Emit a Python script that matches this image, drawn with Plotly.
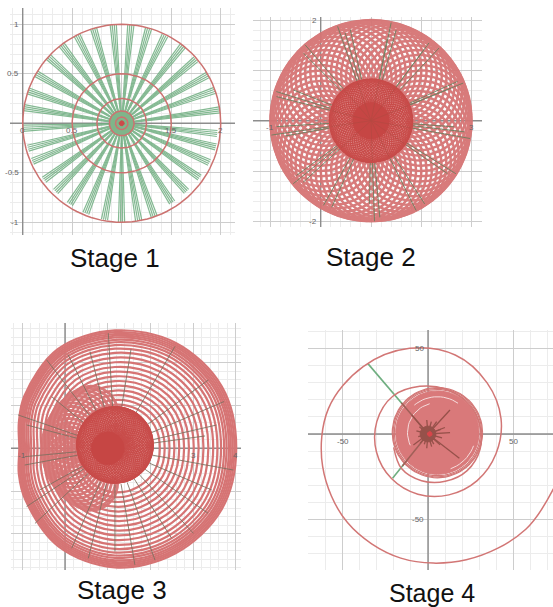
import math
import plotly.graph_objects as go

W, H = 553, 607

# ---------- values ----------
titles = ["Stage 1", "Stage 2", "Stage 3", "Stage 4"]
title_sizes = [26, 26, 26, 25]

# Stage 1 (centre x=1, y=0)
s1_ring_radii = [1.0, 0.5, 0.25, 0.125, 0.0625]
s1_group_angles = [84.8, 74.3, 63.9, 51.8, 40.9, 29.4, 19.6, 7.9, -6, -14, -24, -34.8, -46.3, -57.4, -70.7, -80,
                   -90, -100, -111.6, -122.6, -134, -143.9, -156.8, -165, -177, 171, 161, 150, 138, 127.5, 117, 106.6, 95]
s1_group_lengths = [1, 1, 0.99, 1, 0.99, 1, 1, 1, 0.97, 0.98, 0.97, 0.96, 0.95, 0.95, 1, 1,
                    1, 0.99, 0.98, 0.97, 0.96, 0.97, 0.98, 0.98, 1, 1, 1, 1, 1, 1, 1, 1, 1]
s1_line_offsets = [-1.9, -0.7, 0.5, 1.7]
s1_hub_radius = 0.12

# Stage 2 (centre x=1, y=0)
s2_orbit = [0, 6, 12, 18, 24, 30, 36, 42, 48, 54, 60, 66, 72, 78, 84, 90, 96, 102, 108, 114, 120, 126, 132, 138, 144,
            150, 156, 162, 168, 174, 180, 186, 192, 198, 204, 210, 216, 222, 228, 234, 240, 246, 252, 258, 264, 270,
            276, 282, 288, 294, 300, 306, 312, 318, 324, 330, 336, 342, 348, 354]
s2_outer_radius = 1.0
s2_mid_radius = 0.415
s2_core_radius = 0.36
s2_spoke_angles = [109.5, 106.4, 102.8, 78.4, 74.5, 78.8, 131, 135, 46.9, 53.3, 53.3, 162.9, 165.7, 158.4, 24.4, 22.2,
                   22.2, 183.6, 188.2, 190.1, -6.8, -10.2, -4.2, 219, 222.2, 216.3, -32, -34.7, 240.7, 245.6, -63.3,
                   -57.2, -91, -88, -84.8]
s2_spoke_lengths = [1.99, 1.82, 1.86, 1.99, 1.87, 1.65, 2.0, 1.9, 1.98, 1.93, 1.76, 1.97, 1.94, 1.66, 1.89, 1.98,
                    1.71, 1.88, 2.0, 1.74, 1.87, 2.0, 1.66, 1.99, 1.82, 1.84, 1.99, 1.85, 1.93, 1.89, 2.0,
                    1.97, 1.65, 2.0, 1.93]

# Stage 3 (outline around x=1.17, y=0)
s3_outline_angles = [0, 30, 60, 90, 120, 150, 165, 180, 195, 210, 240, 270, 300, 330]
s3_outline_radii = [2.84, 2.89, 2.85, 2.76, 2.68, 2.45, 2.33, 2.24, 2.33, 2.42, 2.65, 2.79, 2.84, 2.88]
s3_ring_scales = [0.37, 0.41, 0.45, 0.49, 0.53, 0.57, 0.61, 0.65, 0.69, 0.73, 0.77, 0.81, 0.845, 0.875, 0.9, 0.92, 0.94,
                  0.955, 0.97, 0.985, 1.0]
s3_lobe_orbit = [115, 121, 127, 133, 139, 145, 151, 157, 163, 169, 175, 181, 187, 193, 199, 205, 211, 217, 223, 229, 235, 241, 245]
s3_spoke_angles = [127.7, 116.6, 104.5, 93.3, 80.8, 59.5, 36.2, 23.2, 12.9, 7.8, -10.4, -23.3, -34.9, -47.3, -57.8,
                   -70.3, -80.3, -90, -103.6, -113.4, -136.8, -146.6, -151, -169.5, -174.7, 165.2, 161, 140.8]
s3_spoke_lengths = [2.62, 2.45, 2.34, 2.70, 2.35, 2.77, 2.71, 2.78, 2.44, 2.13, 2.82, 2.47, 2.66, 2.71, 2.49,
                    2.78, 2.77, 2.42, 2.65, 2.55, 2.57, 2.48, 2.01, 2.15, 2.12, 2.14, 2.40, 1.91]

# Stage 4 (spiral read as angle/radius around x=3.1, y=-1.6)
s4_spiral_center = [3.1, -1.6]
s4_spiral_angles = [-15, -45, -75, -105, -135, -165, -195, -225, -255, -285, -315, -345, -375, -405, -435, -465, -495,
                    -525, -555, -585, -615, -645, -675, -705, -735, -765, -795, -825, -855, -885]
s4_spiral_radii = [78, 76.5, 74.5, 73.5, 71, 67, 63.5, 58, 53.5, 49.5, 44.5, 41, 38, 36.3, 35.2, 34.8, 34.6,
                   34.4, 34.2, 33.5, 30.5, 28.8, 28, 28, 28.3, 28, 27, 26.6, 26.3, 24]
s4_disc_center = [5.5, 0.8]
s4_disc_radius = 24.4
s4_rim_radii = [25.2, 25.9, 26.4]
s4_arc_radii = [17.5, 21.0, 22.5]
s4_arc_starts = [105, 55, -70]
s4_arc_ends = [205, 130, -20]
s4_green_angles = [130.5, -128.6]
s4_green_lengths = [54.3, 33.2]
s4_dark_angles = [47.5, -37.8, 130.6, -143, 21, 3.5, 95, 55, -130, -42, -74, -165, 140, -95, 75, 20, -15, -60, -110, 165]
s4_dark_lengths = [19, 23.2, 14.6, 10.7, 10.6, 12.9, 8.2, 8.8, 7.2, 9.5, 7.7, 5.9, 6.6, 8.4, 7.5, 8.0, 8.5, 6.8, 6.4, 7.0]

# Axis ticks
s1_xticks, s1_yticks = [0, 0.5, 1.5, 2], [-1, -0.5, 0.5, 1]
s2_xticks, s2_yticks = [-1, 3], [-2, 2]
s3_xticks, s3_yticks = [-1, 3, 4], [3]
s4_xticks, s4_yticks = [-50, 50], [-50, 50]

# ---------- styles and layout ----------
RED = "#d67474"
DEEP = "#c64644"
GREEN = "#6fae80"

panels = [
    (10, 235, 8, 235, 22.7, 123.3, 99.0, 0.5, 0.1, s1_xticks, s1_yticks),
    (253, 482, 17, 227, 320.7, 120.7, 50.3, 1, 0.2, s2_xticks, s2_yticks),
    (11, 241, 323, 570, 65.0, 448.3, 42.7, 1, 0.2, s3_xticks, s3_yticks),
    (308, 553, 330, 570, 428.0, 434.0, 1.71, 50, 10, s4_xticks, s4_yticks),
]
title_pos = [(115, 258), (371, 257), (122, 590), (432, 593)]

fig = go.Figure()
layout = dict(width=W, height=H, margin=dict(l=0, r=0, t=0, b=0), showlegend=False,
              paper_bgcolor="white", plot_bgcolor="white")

for i, (pl, pr, pt, pb, x0, y0, u, major, minor, xt, yt) in enumerate(panels):
    n = "" if i == 0 else str(i + 1)
    axis_common = dict(
        showgrid=True, gridcolor="#cdcdcd", gridwidth=1, dtick=major, tick0=0, tickmode="linear",
        minor=dict(dtick=minor, tick0=0, showgrid=True, gridcolor="#ececec", gridwidth=1),
        zeroline=False, showline=False, anchor="free", ticks="", showticklabels=False,
    )
    layout["xaxis" + n] = dict(axis_common, domain=[pl / W, pr / W], range=[(pl - x0) / u, (pr - x0) / u],
                               position=1 - y0 / H)
    layout["yaxis" + n] = dict(axis_common, domain=[1 - pb / H, 1 - pt / H], range=[(y0 - pb) / u, (y0 - pt) / u],
                               position=x0 / W)

annotations = []
for txt, (tx, ty), fs in zip(titles, title_pos, title_sizes):
    annotations.append(dict(text=txt, x=tx / W, y=1 - ty / H, xref="paper", yref="paper", showarrow=False,
                            xanchor="center", yanchor="middle",
                            font=dict(family="Liberation Sans", size=fs, color="#111111")))
for i, (pl, pr, pt, pb, x0, y0, u, major, minor, xt, yt) in enumerate(panels):
    n = "" if i == 0 else str(i + 1)
    for v in xt:
        annotations.append(dict(text=str(v), x=v, y=0, xref="x" + n, yref="y" + n, showarrow=False,
                                yshift=-7, font=dict(family="Liberation Sans", size=8, color="#666666")))
    for v in yt:
        annotations.append(dict(text=str(v), x=0, y=v, xref="x" + n, yref="y" + n, showarrow=False,
                                xanchor="right", xshift=-2, font=dict(family="Liberation Sans", size=8, color="#666666")))
layout["annotations"] = annotations


def polar(cx, cy, r, deg):
    a = math.radians(deg)
    return cx + r * math.cos(a), cy + r * math.sin(a)


def circle_pts(cx, cy, r, start=0, end=360, step=5):
    xs, ys = [], []
    d = start
    while d <= end:
        x, y = polar(cx, cy, r, d)
        xs.append(x)
        ys.append(y)
        d += step
    return xs, ys


def add_lines(sub, segs, color, width, opacity=1.0, fill=None, fillcolor=None, shape="linear", smoothing=1.0):
    xs, ys = [], []
    for a, b in segs:
        xs += list(a) + [None]
        ys += list(b) + [None]
    n = "" if sub == 0 else str(sub + 1)
    line = dict(color=color, width=width, shape=shape)
    if shape == "spline":
        line["smoothing"] = smoothing
    fig.add_trace(go.Scatter(x=xs, y=ys, mode="lines", xaxis="x" + n, yaxis="y" + n, opacity=opacity,
                             line=line, fill=fill, fillcolor=fillcolor, hoverinfo="skip"))


def axis_lines(sub):
    pl, pr, pt, pb, x0, y0, u = panels[sub][:7]
    add_lines(sub, [(((pl - x0) / u, (pr - x0) / u), (0, 0)), ((0, 0), ((y0 - pb) / u, (y0 - pt) / u))], "#8d8d8d", 1.4)


def spokes(sub, cx, cy, angles, lengths, color, width, opacity=1.0, inner=0.0):
    segs = []
    for a, l in zip(angles, lengths):
        x, y = polar(cx, cy, l, a)
        xi, yi = polar(cx, cy, inner, a)
        segs.append(((xi, x), (yi, y)))
    add_lines(sub, segs, color, width, opacity)


def mesh_disc(sub, cx, cy, orbit_r, fill_r, base, line_color, width):
    add_lines(sub, [circle_pts(cx, cy, fill_r)], base, 1, fill="toself", fillcolor=base)
    segs = []
    for a in s2_orbit:
        ox, oy = polar(cx, cy, orbit_r, a)
        segs.append(circle_pts(ox, oy, orbit_r, step=10))
    add_lines(sub, segs, line_color, width, 0.9)


# Stage 1
axis_lines(0)
segs = []
for a, l in zip(s1_group_angles, s1_group_lengths):
    for off in s1_line_offsets:
        x, y = polar(1, 0, l, a + off)
        segs.append(((1, x), (0, y)))
add_lines(0, segs, GREEN, 1.2, 0.85)
add_lines(0, [circle_pts(1, 0, s1_hub_radius, step=15)], "#7fb58a", 1, fill="toself", fillcolor="#7fb58a")
add_lines(0, [circle_pts(1, 0, r, step=3) for r in s1_ring_radii], "#cc7270", 1.5)
add_lines(0, [circle_pts(1, 0, 0.025, step=20)], "#cc4a4a", 1, fill="toself", fillcolor="#cc4a4a")

# Stage 2
axis_lines(1)
segs = []
for a in s2_orbit:
    cx, cy = polar(1, 0, s2_outer_radius, a)
    segs.append(circle_pts(cx, cy, s2_outer_radius))
add_lines(1, segs, RED, 2.5, 0.95)
spokes(1, 1, 0, s2_spoke_angles, s2_spoke_lengths, "#6f8060", 1.0, 0.9, inner=0.8)
mesh_disc(1, 1, 0, s2_mid_radius, 0.83, "#dc8583", DEEP, 1.1)
add_lines(1, [circle_pts(1, 0, s2_core_radius)], DEEP, 1, fill="toself", fillcolor=DEEP)
spokes(1, 1, 0, s2_spoke_angles[::3], [0.8] * len(s2_spoke_angles[::3]), "#a84a40", 0.8, 0.5)

# Stage 3
axis_lines(2)
s3_cx, s3_cy = 1.17, 0
segs = []
for s in s3_ring_scales:
    ax = s3_outline_angles + [360]
    rx = s3_outline_radii + [s3_outline_radii[0]]
    pts = [polar(s3_cx, s3_cy, r * s, a) for a, r in zip(ax, rx)]
    segs.append(([p[0] for p in pts], [p[1] for p in pts]))
add_lines(2, segs, RED, 2.2, 1, shape="spline", smoothing=1.0)
segs = []
for a in s3_lobe_orbit:
    cx, cy = polar(1.0, 0, 0.92, a)
    segs.append(circle_pts(cx, cy, 0.62, step=8))
add_lines(2, segs, RED, 2.8, 0.95)
spokes(2, s3_cx, s3_cy, s3_spoke_angles, s3_spoke_lengths, "#7c7060", 1.0, 0.85, inner=0.85)
mesh_disc(2, 1.17, 0.08, 0.45, 0.9, "#dc8583", DEEP, 1.1)
add_lines(2, [circle_pts(1.0, 0, 0.38)], DEEP, 1, fill="toself", fillcolor=DEEP)

# Stage 4
axis_lines(3)
spokes(3, 0, 0, s4_green_angles, s4_green_lengths, GREEN, 1.6)
sx, sy = s4_spiral_center
pts = [polar(sx, sy, r, a) for a, r in zip(s4_spiral_angles, s4_spiral_radii)]
add_lines(3, [([p[0] for p in pts], [p[1] for p in pts])], "#d27675", 1.5, shape="spline")
cx4, cy4 = s4_disc_center
add_lines(3, [circle_pts(cx4, cy4, r) for r in s4_rim_radii], "#d27675", 1.2)
add_lines(3, [circle_pts(cx4, cy4, s4_disc_radius)], "#d9797a", 1, fill="toself", fillcolor="#d9797a")
add_lines(3, [circle_pts(cx4, cy4, r, a, b) for r, a, b in zip(s4_arc_radii, s4_arc_starts, s4_arc_ends)], "#f6dcdc", 1)
spokes(3, 0, 0, s4_green_angles, [24, 24], "#a06058", 1.5)
spokes(3, 0, 0, s4_dark_angles, s4_dark_lengths, "#96514a", 1.3)
add_lines(3, [circle_pts(0, 0, 4.6, step=20)], "#96514a", 1, fill="toself", fillcolor="#96514a")
add_lines(3, [circle_pts(1, 0, 1.4, step=30)], "#d8454a", 1, fill="toself", fillcolor="#d8454a")

fig.update_layout(**layout)
fig.write_html("out.html", config={"displayModeBar": False},
               post_script="document.body.style.margin='0';document.body.style.overflow='hidden';")
